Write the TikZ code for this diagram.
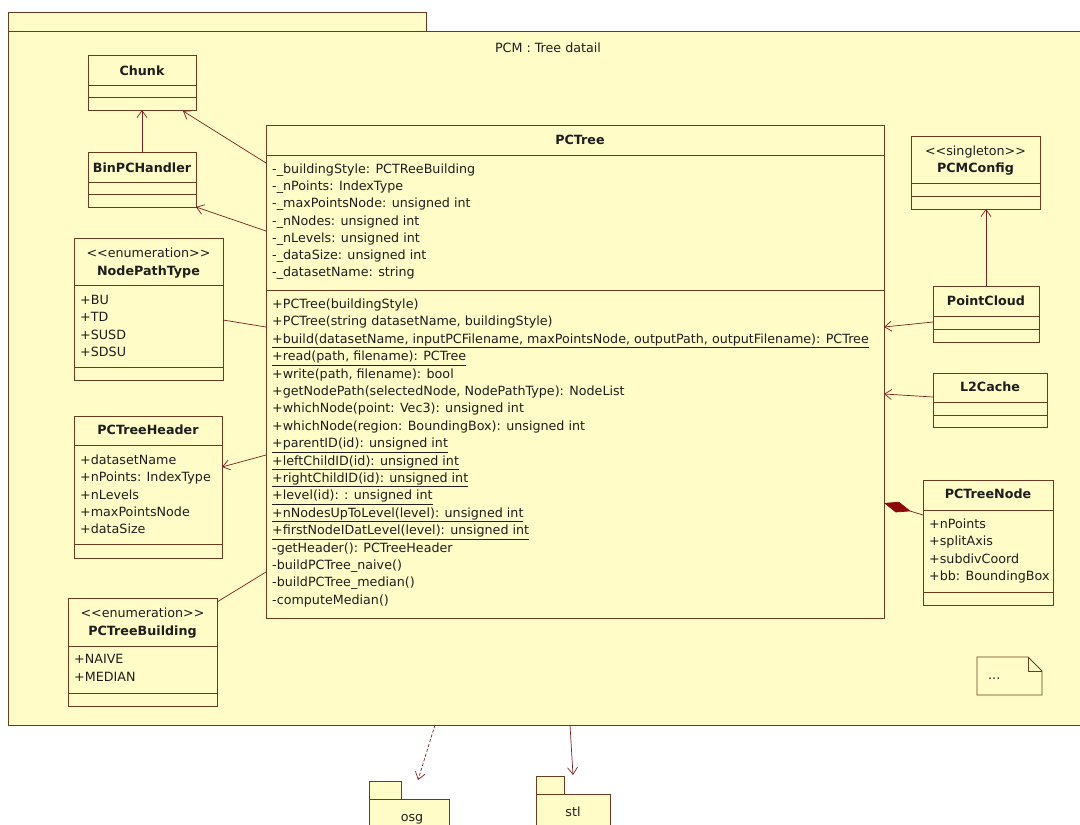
\documentclass[tikz,border=0pt]{standalone}
\usepackage{fontspec}
\setmainfont{DejaVu Sans}
\usetikzlibrary{arrows.meta,calc}
\definecolor{pkgfill}{HTML}{FFFCC8}
\definecolor{border}{HTML}{6B3A1F}
\definecolor{arrc}{HTML}{7A1F1F}
\definecolor{txtc}{HTML}{1E1E1E}
\definecolor{diam}{HTML}{8B0A0A}
\begin{document}
\begin{tikzpicture}[x=1pt,y=-1pt,
  clsbox/.style={draw=border, fill=pkgfill, line width=0.9pt, inner sep=0pt, outer sep=0pt, anchor=north west},
  txt/.style={anchor=base west, inner sep=0pt, text=txtc, font=\fontsize{12.7}{15}\selectfont},
  ctxt/.style={anchor=base, inner sep=0pt, text=txtc, font=\fontsize{12.7}{15}\selectfont},
  clsname/.style={anchor=base, inner sep=0pt, text=txtc, font=\fontsize{12.7}{15}\selectfont\bfseries},
  divline/.style={draw=border, line width=0.9pt},
  assoc/.style={draw=arrc, line width=0.7pt},
  deparrow/.style={assoc, -{Straight Barb[length=7pt,width=10pt]}},
]
\useasboundingbox (0,0) rectangle (1080,825);
\clip (0,0) rectangle (1080,825);
\fill[white] (0,0) rectangle (1080,825);

% package frame
\node[clsbox, minimum width=418pt, minimum height=19pt] (pkgtab) at (8,12) {};
\node[clsbox, minimum width=1090pt, minimum height=694pt] (pkg) at (8,31) {};
\node[ctxt] (title) at (548,52) {PCM : Tree datail};

% Chunk
\node[clsbox, minimum width=108pt, minimum height=55pt] (chunk) at (88,55) {};
\node[clsname] (chunkname) at (142,75) {Chunk};
\draw[divline] (88,85) -- (196,85) (88,97) -- (196,97);

% BinPCHandler
\node[clsbox, minimum width=108pt, minimum height=55pt] (binpc) at (88,152) {};
\node[clsname] (binpcname) at (142,172.5) {BinPCHandler};
\draw[divline] (88,182) -- (196,182) (88,194) -- (196,194);

% NodePathType
\node[clsbox, minimum width=149pt, minimum height=142pt] (npt) at (74,238) {};
\node[ctxt] (nptst) at (148.5,257.5) {{<}{<}enumeration{>}{>}};
\node[clsname] (nptname) at (148.5,275.5) {NodePathType};
\draw[divline] (74,285) -- (223,285) (74,367) -- (223,367);
\foreach \t [count=\i] in {{+BU},{+TD},{+SUSD},{+SDSU}}
  \node[txt] (npta\i) at (80,304.5+17.4*\i-17.4) {\t};

% PCTreeHeader
\node[clsbox, minimum width=148pt, minimum height=142pt] (pcth) at (74,416) {};
\node[clsname] (pcthname) at (148,434.5) {PCTreeHeader};
\draw[divline] (74,445) -- (222,445) (74,544) -- (222,544);
\foreach \t [count=\i] in {{+datasetName},{+nPoints: IndexType},{+nLevels},{+maxPointsNode},{+dataSize}}
  \node[txt] (pctha\i) at (80,464.5+17.3*\i-17.3) {\t};

% PCTreeBuilding
\node[clsbox, minimum width=149pt, minimum height=108pt] (pctb) at (68,598) {};
\node[ctxt] (pctbst) at (142.5,617.5) {{<}{<}enumeration{>}{>}};
\node[clsname] (pctbname) at (142.5,635.5) {PCTreeBuilding};
\draw[divline] (68,646) -- (217,646) (68,693) -- (217,693);
\node[txt] (pctba1) at (74,663.5) {+NAIVE};
\node[txt] (pctba2) at (74,681.5) {+MEDIAN};

% PCTree
\node[clsbox, minimum width=618pt, minimum height=493pt] (pctree) at (266,125) {};
\node[clsname] (pctreename) at (580,144.5) {PCTree};
\draw[divline] (266,155) -- (884,155) (266,290) -- (884,290);
\foreach \t [count=\i] in {{-\_buildingStyle: PCTReeBuilding},{-\_nPoints: IndexType},{-\_maxPointsNode: unsigned int},{-\_nNodes: unsigned int},{-\_nLevels: unsigned int},{-\_dataSize: unsigned int},{-\_datasetName: string}}
  \node[txt] (pcta\i) at (272,173.5+17.2*\i-17.2) {\t};
\foreach \t [count=\i] in {{+PCTree(buildingStyle)},{+PCTree(string datasetName, buildingStyle)},{\underline{+build(datasetName, inputPCFilename, maxPointsNode, outputPath, outputFilename): PCTree}},{\underline{+read(path, filename): PCTree}},{+write(path, filename): bool},{+getNodePath(selectedNode, NodePathType): NodeList},{+whichNode(point: Vec3): unsigned int},{+whichNode(region: BoundingBox): unsigned int},{\underline{+parentID(id): unsigned int}},{\underline{+leftChildID(id): unsigned int}},{\underline{+rightChildID(id): unsigned int}},{\underline{+level(id): : unsigned int}},{\underline{+nNodesUpToLevel(level): unsigned int}},{\underline{+firstNodeIDatLevel(level): unsigned int}},{-getHeader(): PCTreeHeader},{-buildPCTree\_naive()},{-buildPCTree\_median()},{-computeMedian()}}
  \node[txt] (pctm\i) at (272,308.5+17.4*\i-17.4) {\t};

% PCMConfig
\node[clsbox, minimum width=129pt, minimum height=73pt] (pcmc) at (911,136) {};
\node[ctxt] (pcmcst) at (975.5,155.5) {{<}{<}singleton{>}{>}};
\node[clsname] (pcmcname) at (975.5,172.5) {PCMConfig};
\draw[divline] (911,183) -- (1040,183) (911,196) -- (1040,196);

% PointCloud
\node[clsbox, minimum width=106pt, minimum height=56pt] (pcloud) at (933,286) {};
\node[clsname] (pcloudname) at (986,305.5) {PointCloud};
\draw[divline] (933,316) -- (1039,316) (933,329) -- (1039,329);

% L2Cache
\node[clsbox, minimum width=114pt, minimum height=54pt] (l2) at (933,373) {};
\node[clsname] (l2name) at (990,391.5) {L2Cache};
\draw[divline] (933,402) -- (1047,402) (933,415) -- (1047,415);

% PCTreeNode
\node[clsbox, minimum width=130pt, minimum height=125pt] (pctn) at (923,480) {};
\node[clsname] (pctnname) at (988,498.5) {PCTreeNode};
\draw[divline] (923,510) -- (1053,510) (923,592) -- (1053,592);
\foreach \t [count=\i] in {{+nPoints},{+splitAxis},{+subdivCoord},{+bb: BoundingBox}}
  \node[txt] (pctna\i) at (929,528.5+17.4*\i-17.4) {\t};

% note
\draw[divline, fill=pkgfill] (977,657) -- (1028,657) -- (1042,671) -- (1042,695) -- (977,695) -- cycle;
\draw[divline] (1028,657) -- (1028,671) -- (1042,671);
\node[txt] (notetext) at (988,679) {...};

% packages osg, stl
\node[clsbox, minimum width=32pt, minimum height=18pt] (osgtab) at (369,781) {};
\node[clsbox, minimum width=80pt, minimum height=40pt] (osgbody) at (369,799) {};
\node[ctxt] (osgname) at (412,821) {osg};
\node[clsbox, minimum width=28pt, minimum height=18pt] (stltab) at (536,776) {};
\node[clsbox, minimum width=74pt, minimum height=45pt] (stlbody) at (536,794) {};
\node[ctxt] (stlname) at (573,816) {stl};

% connectors
\draw[deparrow] (binpc.north) -- (chunk.south);
\draw[deparrow] ($(pctree.north west)+(0,38)$) -- ($(chunk.south east)+(-13,1)$);
\draw[deparrow] ($(pctree.north west)+(0,106)$) -- ($(binpc.south east)+(0,0)$);
\draw[assoc] ($(npt.east)+(0,11)$) -- ($(pctree.north west)+(0,202)$);
\draw[deparrow] ($(pctree.north west)+(0,330)$) -- ($(pcth.east)+(0,-20)$);
\draw[assoc] ($(pctb.north east)+(0,4)$) -- ($(pctree.north west)+(0,447)$);
\draw[deparrow] (pcloud.north) -- (pcloud.north |- pcmc.south);
\draw[deparrow] ($(pcloud.west)+(0,8)$) -- ($(pctree.north east)+(0,202)$);
\draw[deparrow] ($(l2.west)+(0,-3)$) -- ($(pctree.north east)+(0,269)$);
\draw[assoc, {Diamond[length=28pt,width=11pt,color=diam]}-] ($(pctree.north east)+(0,378)$) -- ($(pctn.north west)+(0,35)$);
\draw[deparrow, dashed, dash pattern=on 3pt off 2pt] ($(pkg.south west)+(427,0)$) -- ($(osgbody.north west)+(49,-19)$);
\draw[deparrow] ($(pkg.south west)+(562,0)$) -- ($(stltab.north east)+(9,-1)$);
\end{tikzpicture}
\end{document}
